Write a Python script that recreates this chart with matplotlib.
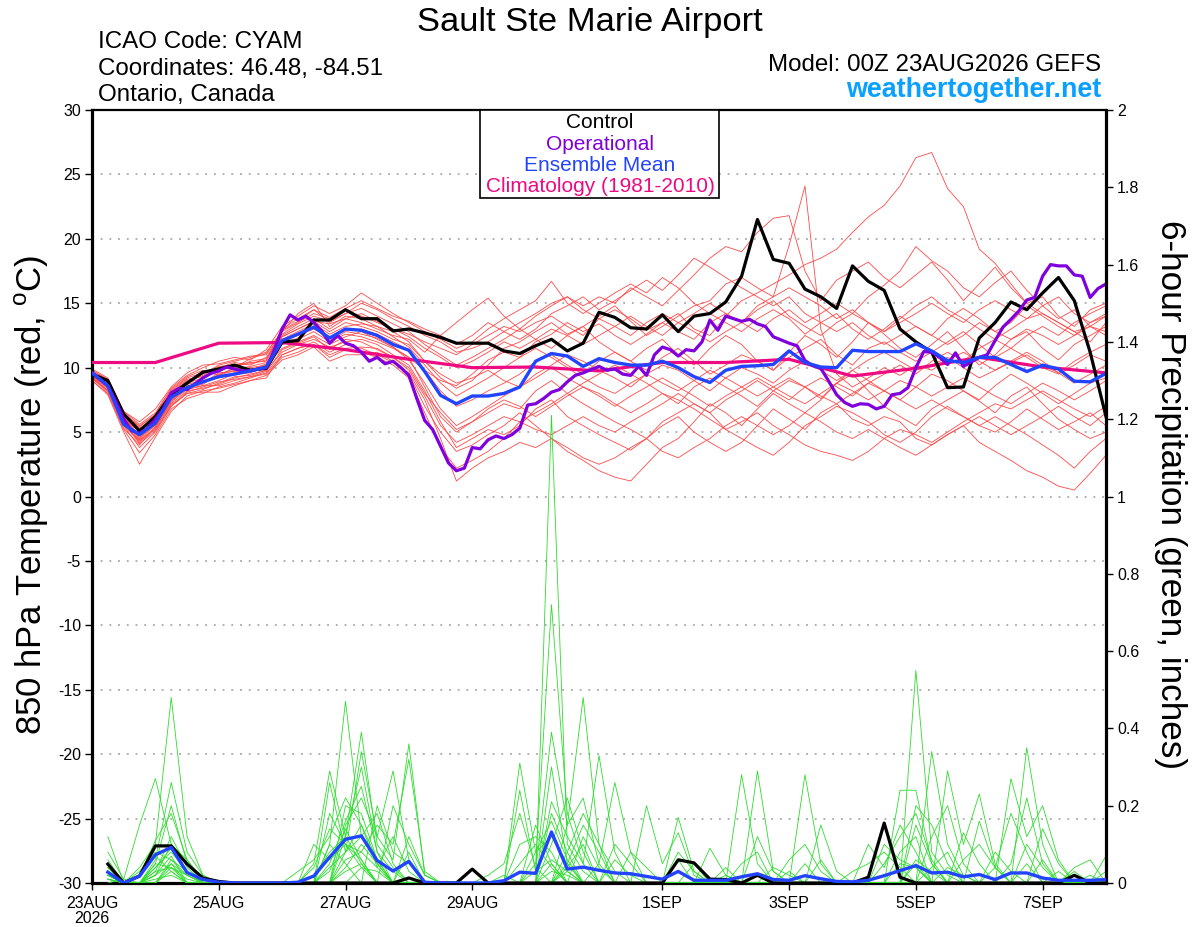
import matplotlib
matplotlib.use('Agg')
import matplotlib.pyplot as plt
import numpy as np
from matplotlib.patches import Rectangle
from matplotlib.ticker import FuncFormatter

plt.rcParams['font.family'] = ['Liberation Sans', 'DejaVu Sans']
plt.rcParams['axes.unicode_minus'] = False

# time axis: GEFS 6-hourly, GFS operational 3-hourly, climatology daily
hours = np.arange(0, 385, 6)
hours_op = np.arange(0, 385, 3)
hours_clim = np.arange(0, 385, 24)
hours_p = hours[1:]

tick_hours = [0, 48, 96, 144, 216, 264, 312, 360]
tick_labels = ['23AUG\n2026', '25AUG', '27AUG', '29AUG', '1SEP', '3SEP', '5SEP', '7SEP']

# 850 hPa temperature (C)
control_t = [9.5, 9.0, 6.4, 5.1, 6.2, 7.9, 8.8, 9.65, 9.9, 10.2, 9.8, 9.95,
             12.0, 12.1, 13.7, 13.7, 14.5, 13.8, 13.8, 12.85, 13.0, 12.7, 12.35,
             11.9, 11.9, 11.9, 11.3, 11.1, 11.7, 12.2, 11.3, 11.9, 14.3, 13.9, 13.1, 13.0, 14.1, 12.8, 14.0, 14.2, 15.1,
             17.1, 21.5, 18.4, 18.1, 16.1, 15.5, 14.6, 17.9, 16.7, 16.0, 13.0, 12.0, 11.2, 8.45, 8.5, 12.3,
             13.5, 15.1, 14.5, 15.8, 17.0, 15.2, 11.2, 6.2]

oper_t = [9.6, 9.1, 8.6, 7.4, 6.0, 5.1, 4.9, 5.3, 6.0, 6.8,
          8.05, 8.4, 8.3, 8.75, 9.2, 9.55, 9.75, 10.05, 9.9, 9.75,
          9.75, 9.9, 10.0, 11.35, 13.0, 14.1, 13.7, 14.0, 13.5, 12.85,
          11.9, 12.5, 11.9, 11.7, 11.2, 10.5, 10.8, 10.3, 10.5, 10.0,
          9.4, 7.6, 5.9, 5.2, 3.9,
          2.6, 2.0, 2.2, 3.8, 3.7, 4.4, 4.7, 4.5, 4.8, 5.3,
          7.1, 7.2, 7.6, 8.1, 8.3, 8.9, 9.4, 9.6, 9.85, 10.1,
          9.8, 9.9, 9.5, 9.4, 10.1, 9.4, 11.0, 11.6, 11.4, 10.9,
          11.4, 11.3, 12.0, 13.7, 12.9, 14.0, 13.8,
          13.6, 13.75, 13.4, 13.2, 12.4, 12.15, 11.9, 11.7,
          10.55, 10.15, 9.95, 8.95, 7.9, 7.3, 7.0, 7.2, 7.15, 6.8,
          7.0, 7.9, 8.0, 8.45, 10.0, 11.25, 11.2, 10.8, 10.25, 11.15,
          10.1, 10.45, 10.8, 11.0, 12.1, 13.15, 13.75, 14.4, 15.25, 15.45,
          17.1, 18.0, 17.9, 17.9, 17.2, 17.1, 15.45, 16.15, 16.5]

mean_t = [9.6, 8.6, 5.6, 4.8, 5.7, 7.7, 8.45, 8.9, 9.3, 9.5, 9.75, 10.05,
          12.1, 12.6, 13.15, 12.3, 13.0, 12.9, 12.5, 11.8, 11.35, 9.7, 7.85,
          7.2, 7.8, 7.8, 8.0, 8.5, 10.5, 11.1, 10.9, 10.1, 10.7, 10.4, 10.2, 10.2, 10.5, 10.0, 9.3, 8.85, 9.8, 10.1, 10.15,
          10.25, 11.3, 10.4, 10.05, 10.0, 11.35, 11.25, 11.25, 11.25, 11.85, 11.3, 10.55, 10.4, 10.8, 10.8, 10.25,
          9.7, 10.2, 9.9, 8.95, 8.9, 9.55]

clim_t = [10.4, 10.4, 11.9, 11.95, 11.4, 10.65, 10.0, 10.05, 9.75, 10.4, 10.4,
          10.65, 9.35, 9.95, 10.8, 10.05, 9.6]

t_mem01 = [9.8, 9.0, 6.4, 5.5, 6.3, 8.0, 9.0, 9.5, 10.2, 10.5, 10.8, 11.2,
           12.8, 13.5, 14.2, 13.8, 14.5, 14.0, 13.5, 13.0, 12.6,
           12.0, 11.5, 11.0, 11.8, 12.5, 13.2, 12.8, 13.5, 14.0, 13.2, 12.5, 13.8,
           14.5, 13.8, 12.9, 13.5, 14.2, 13.0, 12.5, 14.0, 15.2, 15.8, 16.5, 17.2, 18.0, 18.5, 19.2, 20.5,
           21.7, 22.6, 24.1, 26.3, 26.7, 23.9, 22.5, 19.2, 18.1, 16.5, 15.0, 14.2, 13.5, 12.8, 12.0, 13.5]
t_mem02 = [9.4, 8.4, 5.7, 4.6, 5.5, 7.4, 8.3, 8.6, 9.0, 9.5, 9.6, 10.1,
           12.4, 13.0, 13.6, 12.8, 13.5, 13.2, 12.8, 12.2, 11.8,
           10.5, 9.2, 8.4, 9.0, 10.2, 11.5, 12.0, 12.8, 13.5, 12.6, 13.2, 14.0,
           14.8, 13.6, 12.5, 13.2, 14.0, 14.8, 15.2, 16.5, 17.0, 16.2, 15.5, 19.5, 24.1, 13.0, 9.5, 8.5,
           9.2, 10.0, 9.4, 10.2, 9.8, 10.6, 11.2, 10.5, 9.8, 10.4, 11.0, 10.2, 9.6, 10.5, 11.2, 11.8]
t_mem03 = [9.6, 8.8, 6.2, 5.2, 6.0, 7.8, 8.8, 9.2, 9.8, 10.2, 10.3, 10.6,
           13.0, 13.8, 14.5, 13.5, 14.2, 15.0, 14.5, 13.8, 13.2,
           12.5, 12.0, 11.2, 11.5, 12.0, 12.8, 13.5, 14.2, 15.0, 15.5, 14.8, 15.5,
           15.0, 16.2, 15.5, 14.8, 16.0, 17.2, 18.5, 19.4, 19.0, 20.5, 21.6, 21.8, 17.5, 15.2, 16.8, 17.5,
           18.2, 17.0, 16.2, 17.2, 18.2, 16.8, 15.2, 16.5, 17.8, 16.2, 15.0, 15.5, 14.0, 13.2, 14.5, 15.0]
t_mem04 = [9.2, 8.2, 5.5, 4.4, 5.2, 7.0, 8.0, 8.3, 8.8, 9.3, 9.4, 9.8,
           11.8, 12.2, 12.8, 12.0, 12.6, 12.4, 12.0, 11.5, 10.8,
           9.8, 9.0, 8.6, 9.5, 10.6, 11.2, 10.8, 12.0, 12.6, 13.5, 12.8, 13.4,
           12.5, 11.8, 12.6, 13.5, 12.8, 12.2, 13.5, 14.2, 13.5, 12.8, 13.8, 14.5, 13.5, 14.2, 15.0, 14.2,
           15.5, 16.4, 17.5, 19.4, 18.3, 17.5, 16.2, 15.5, 16.6, 17.5, 16.0, 14.8, 13.8, 14.5, 13.2, 14.0]
t_mem05 = [9.0, 8.0, 5.2, 3.4, 4.8, 6.8, 7.6, 8.0, 8.5, 8.8, 9.2, 9.6,
           11.0, 11.5, 12.0, 11.2, 11.8, 11.5, 11.0, 10.4, 9.6,
           7.5, 4.5, 1.2, 2.2, 3.0, 3.5, 4.2, 3.8, 4.5, 3.5, 2.8, 2.0,
           1.5, 1.2, 2.5, 3.8, 4.5, 5.8, 7.2, 6.5, 5.5, 6.8, 8.0, 7.2, 6.5, 7.5, 8.8, 9.5,
           8.2, 7.0, 6.2, 5.5, 6.8, 7.5, 8.2, 7.4, 6.5, 7.8, 8.5, 7.2, 6.0, 5.2, 4.5, 5.0]
t_mem06 = [9.5, 8.5, 5.9, 4.4, 5.6, 7.5, 8.4, 8.9, 9.4, 9.8, 10.0, 10.2,
           11.5, 12.0, 12.5, 11.8, 12.4, 12.8, 12.2, 11.6, 10.8,
           8.5, 6.2, 5.0, 5.8, 6.5, 7.2, 6.8, 8.2, 9.0, 8.0, 7.2, 6.5,
           5.8, 5.2, 4.5, 5.5, 6.2, 5.0, 4.2, 3.5, 4.2, 5.5, 6.8, 6.0, 5.2, 6.5, 7.2, 6.0,
           5.5, 6.2, 5.8, 4.5, 4.0, 4.8, 5.5, 4.2, 3.5, 2.8, 2.0, 1.5, 0.8, 0.5, 1.8, 3.2]
t_mem07 = [9.7, 8.9, 6.1, 5.0, 6.2, 8.2, 9.2, 9.6, 10.0, 10.4, 10.2, 10.8,
           12.5, 13.2, 13.8, 13.0, 13.8, 13.5, 13.0, 12.5, 12.2,
           11.2, 12.5, 13.5, 14.5, 15.4, 14.0, 13.0, 12.2, 11.5, 12.5, 13.2, 12.0,
           11.2, 10.5, 11.5, 12.2, 11.0, 10.2, 11.5, 12.5, 11.8, 10.5, 9.8, 11.2, 12.5, 11.8, 10.8, 12.0,
           13.5, 12.6, 11.5, 10.8, 11.8, 12.8, 11.5, 10.2, 11.0, 12.2, 12.8, 11.5, 10.6, 11.8, 12.5, 13.2]
t_mem08 = [9.3, 8.6, 6.6, 5.6, 6.5, 8.4, 9.4, 10.0, 10.5, 10.8, 10.6, 11.4,
           13.2, 14.0, 14.8, 14.2, 14.8, 15.8, 15.0, 14.2, 13.5,
           12.8, 12.2, 11.5, 12.0, 13.0, 13.8, 14.5, 15.2, 16.7, 15.0, 14.2, 15.0,
           15.8, 16.5, 15.8, 17.0, 16.2, 15.0, 14.2, 13.5, 12.8, 13.8, 14.5, 13.8, 12.6, 13.5, 14.2, 13.0,
           12.2, 13.0, 14.0, 13.2, 12.5, 13.8, 14.6, 13.8, 12.8, 13.5, 14.8, 14.0, 13.2, 12.5, 13.5, 14.2]
t_mem09 = [9.1, 8.3, 5.8, 4.2, 5.3, 7.2, 8.2, 8.4, 8.7, 9.2, 9.5, 9.8,
           11.2, 11.8, 12.2, 11.6, 12.0, 12.2, 11.8, 11.0, 10.2,
           8.2, 5.8, 3.8, 4.5, 5.2, 4.8, 5.5, 6.8, 7.5, 6.2, 5.5, 4.8,
           4.2, 3.6, 4.5, 5.8, 6.5, 7.2, 6.5, 5.2, 4.5, 3.8, 3.2, 4.2, 5.5, 6.2, 7.0, 6.5,
           5.8, 4.8, 4.2, 5.0, 6.2, 7.0, 6.2, 5.5, 5.0, 5.8, 6.8, 6.0, 5.2, 5.8, 6.5, 5.5]
t_mem10 = [9.6, 8.7, 6.0, 4.8, 5.9, 7.7, 8.7, 9.0, 9.2, 9.6, 9.9, 10.1,
           12.0, 12.5, 13.0, 12.4, 12.9, 13.0, 12.6, 12.0, 11.4,
           9.8, 8.2, 7.0, 7.5, 8.2, 8.8, 9.5, 10.5, 11.0, 10.2, 9.5, 10.5,
           11.2, 10.5, 9.8, 10.8, 11.5, 10.5, 9.5, 10.2, 11.0, 10.5, 9.8, 10.8, 11.5, 12.2, 11.0, 10.2,
           11.5, 12.0, 11.2, 10.5, 11.2, 12.0, 12.8, 11.8, 10.8, 11.5, 10.8, 10.0, 9.5, 10.2, 11.0, 10.5]
t_mem11 = [9.4, 8.5, 5.5, 3.8, 5.0, 7.0, 8.1, 8.5, 8.9, 9.1, 9.3, 9.5,
           10.8, 11.2, 11.8, 10.8, 11.4, 11.2, 10.8, 10.2, 9.2,
           6.5, 3.8, 2.2, 2.8, 3.5, 4.5, 5.8, 6.5, 7.2, 8.0, 8.8, 9.5,
           10.2, 9.5, 8.8, 8.0, 7.2, 8.5, 9.2, 8.5, 7.8, 7.0, 8.2, 9.0, 8.5, 7.6, 8.8, 9.8,
           9.0, 8.2, 7.5, 8.5, 9.5, 9.0, 8.2, 7.5, 8.6, 9.5, 8.8, 8.0, 7.2, 8.0, 8.8, 9.2]
t_mem12 = [9.9, 9.2, 6.6, 5.8, 6.8, 8.5, 9.6, 10.2, 10.3, 10.6, 10.9, 11.0,
           12.6, 13.4, 14.0, 13.6, 14.2, 14.6, 14.0, 13.4, 12.8,
           11.8, 11.0, 10.2, 10.8, 11.5, 12.2, 13.0, 14.0, 14.8, 15.5, 14.5, 13.8,
           13.2, 12.5, 13.5, 14.2, 13.5, 12.8, 12.0, 12.8, 13.5, 14.5, 15.2, 14.0, 13.2, 12.5, 13.5, 14.2,
           13.5, 12.8, 13.8, 14.8, 15.5, 14.5, 13.8, 13.0, 12.2, 13.0, 13.8, 14.2, 13.5, 12.8, 13.2, 12.5]
t_mem13 = [9.2, 8.1, 5.3, 4.0, 5.4, 7.3, 8.5, 8.7, 9.5, 9.9, 10.1, 10.4,
           11.8, 12.3, 13.2, 12.0, 12.8, 12.6, 12.3, 11.6, 10.6,
           8.8, 6.8, 5.5, 6.2, 7.0, 7.8, 8.5, 9.2, 10.0, 9.2, 8.5, 8.0,
           7.2, 6.5, 7.2, 8.0, 7.5, 6.8, 6.0, 5.2, 5.8, 6.5, 5.5, 4.8, 4.0, 3.5, 3.2, 2.8,
           3.5, 4.5, 5.2, 4.8, 4.2, 5.0, 5.8, 6.5, 7.2, 6.8, 7.5, 8.2, 7.5, 6.8, 6.2, 7.0]
t_mem14 = [9.8, 9.1, 6.2, 4.7, 5.7, 7.9, 8.9, 9.4, 10.1, 10.2, 10.4, 10.5,
           12.8, 14.2, 15.0, 13.2, 14.0, 13.8, 13.2, 12.8, 12.0,
           10.5, 9.5, 8.8, 9.2, 9.8, 9.0, 8.5, 9.5, 10.2, 11.0, 10.5, 9.8,
           9.2, 8.5, 9.5, 10.2, 9.8, 9.0, 8.2, 9.2, 10.0, 9.5, 8.8, 9.8, 10.5, 9.8, 9.0, 9.8,
           10.6, 11.2, 10.5, 9.8, 10.2, 10.8, 10.0, 9.2, 9.8, 10.5, 11.2, 10.5, 9.6, 8.8, 9.5, 10.2]
t_mem15 = [9.3, 8.4, 5.6, 4.3, 5.4, 7.5, 8.4, 8.6, 8.6, 9.0, 9.3, 9.7,
           11.4, 11.9, 12.4, 11.4, 12.2, 12.0, 11.4, 10.8, 9.8,
           7.8, 5.5, 4.2, 4.8, 5.5, 6.2, 5.8, 5.2, 4.8, 5.5, 6.2, 5.5,
           5.0, 5.8, 6.5, 7.2, 8.0, 7.2, 6.5, 7.5, 8.2, 9.0, 8.2, 7.5, 8.5, 9.2, 8.5, 7.8,
           8.8, 9.5, 10.2, 9.5, 10.5, 11.2, 10.5, 11.5, 12.2, 11.5, 12.5, 13.2, 12.5, 13.5, 14.2, 14.8]
t_mem16 = [9.5, 8.8, 6.1, 4.5, 5.9, 7.7, 8.6, 8.8, 9.6, 9.7, 9.8, 10.3,
           12.2, 12.8, 13.4, 12.6, 13.2, 13.4, 13.2, 12.4, 11.6,
           10.2, 8.8, 7.8, 8.5, 9.2, 10.0, 10.8, 11.5, 10.8, 10.0, 9.2, 8.5,
           8.0, 8.8, 9.5, 8.8, 8.2, 9.0, 9.8, 9.2, 8.5, 7.8, 8.5, 9.2, 8.5, 7.8, 7.2, 8.0,
           8.8, 8.2, 7.5, 6.8, 7.5, 6.8, 6.2, 5.5, 6.2, 5.5, 4.8, 4.0, 3.2, 2.2, 3.5, 4.5]
t_mem17 = [9.7, 8.7, 6.4, 5.3, 6.1, 8.1, 9.1, 9.3, 9.9, 10.0, 10.5, 10.7,
           12.4, 13.0, 13.6, 13.4, 13.8, 14.2, 13.6, 13.0, 12.4,
           11.5, 10.8, 10.0, 10.5, 11.2, 12.0, 11.5, 12.2, 13.0, 12.5, 11.8, 12.5,
           13.2, 14.0, 13.2, 12.5, 13.5, 14.2, 15.0, 14.2, 13.5, 14.8, 15.5, 16.2, 15.5, 14.8, 13.8, 14.5,
           13.5, 12.8, 13.5, 14.2, 15.0, 14.2, 13.5, 14.5, 15.2, 14.5, 13.8, 14.8, 15.5, 14.2, 13.5, 14.0]
t_mem18 = [9.0, 7.9, 5.0, 2.5, 4.6, 6.6, 7.8, 8.2, 8.4, 8.7, 9.0, 9.4,
           10.6, 11.0, 11.6, 10.5, 11.0, 11.0, 11.2, 10.5, 9.5,
           7.0, 5.0, 3.5, 4.0, 4.8, 5.5, 6.5, 5.5, 4.5, 3.8, 3.0, 2.5,
           3.0, 3.8, 4.5, 3.5, 3.0, 3.8, 4.5, 5.5, 6.2, 5.5, 4.8, 5.5, 6.5, 5.8, 5.0, 4.5,
           5.2, 4.5, 3.8, 3.2, 4.0, 4.8, 5.5, 6.2, 5.5, 4.8, 5.5, 6.2, 7.0, 6.2, 5.5, 6.5]
t_mem19 = [9.6, 8.9, 6.5, 5.4, 6.4, 8.3, 9.3, 9.8, 9.4, 10.0, 10.7, 11.1,
           12.9, 13.6, 14.5, 13.9, 14.6, 15.2, 14.6, 14.0, 13.6,
           13.0, 12.5, 11.8, 12.5, 13.5, 12.8, 12.2, 13.0, 14.2, 14.8, 15.5, 14.5,
           15.2, 16.0, 16.8, 16.0, 17.2, 18.5, 17.8, 17.0, 16.2, 15.5, 14.8, 15.5, 14.2, 13.5, 12.8, 13.5,
           12.5, 11.8, 12.5, 13.2, 12.5, 11.8, 12.5, 13.5, 12.8, 12.2, 13.0, 12.5, 11.8, 12.5, 13.2, 12.8]
t_mem20 = [9.3, 8.2, 5.7, 4.1, 5.1, 7.1, 8.0, 8.1, 8.1, 8.6, 9.0, 9.2,
           11.0, 11.5, 11.8, 11.0, 11.5, 11.6, 11.5, 10.8, 10.0,
           8.0, 6.5, 5.2, 5.8, 6.8, 7.5, 7.0, 6.2, 7.0, 7.8, 8.5, 7.8,
           7.0, 7.8, 8.5, 9.2, 8.5, 7.8, 7.0, 7.8, 8.5, 9.2, 8.5, 7.8, 7.2, 8.0, 8.8, 8.2,
           7.5, 8.2, 9.0, 8.5, 7.8, 8.5, 9.2, 8.5, 7.8, 7.2, 8.0, 8.8, 8.2, 7.5, 8.2, 9.0]

# 6-hour precipitation (inches), valid at hours 6..384
control_p = [0.049, 0.0, 0.018, 0.096, 0.096, 0.049, 0.013, 0.004,
             0, 0, 0, 0, 0, 0, 0, 0, 0, 0, 0, 0.013, 0, 0, 0, 0.036,
             0, 0, 0, 0, 0, 0, 0, 0, 0, 0, 0, 0, 0.06, 0.052, 0.01, 0.009, 0, 0.02,
             0, 0, 0, 0, 0, 0, 0.015, 0.155, 0.015, 0, 0, 0, 0, 0, 0, 0, 0, 0, 0, 0.02, 0, 0]
mean_p = [0.028, 0.0, 0.018, 0.073, 0.092, 0.027, 0.009, 0.002,
          0, 0, 0, 0,
          0.002, 0.018, 0.067, 0.113, 0.122, 0.058, 0.031, 0.056, 0.002,
          0, 0, 0, 0,
          0.006, 0.028, 0.025, 0.132, 0.036, 0.041, 0.033,
          0.026, 0.024, 0.017, 0.010, 0.030, 0.007, 0.007, 0.007, 0.016, 0.024, 0.009, 0.007,
          0.019, 0.011, 0.004, 0.003, 0.007, 0.019, 0.032, 0.045, 0.026, 0.028, 0.016, 0.022,
          0.009, 0.026, 0.026, 0.013, 0.007, 0.007, 0.007, 0.009]

# members: {6-hour step: inches}, zero elsewhere
p_mem01 = {1: 0.12, 3: 0.04, 4: 0.10, 5: 0.48, 6: 0.12, 7: 0.02, 15: 0.10, 16: 0.47, 17: 0.12,
           18: 0.05, 29: 1.21, 30: 0.10, 31: 0.03, 52: 0.55, 53: 0.08, 54: 0.02}
p_mem02 = {1: 0.08, 2: 0.01, 3: 0.15, 4: 0.27, 5: 0.10, 6: 0.03, 14: 0.05, 15: 0.29, 16: 0.12,
           17: 0.39, 18: 0.10, 19: 0.04, 28: 0.05, 29: 0.72, 30: 0.18, 31: 0.05, 45: 0.28, 46: 0.05,
           53: 0.34, 54: 0.10, 55: 0.02}
p_mem03 = {1: 0.05, 4: 0.06, 5: 0.26, 6: 0.08, 7: 0.02, 15: 0.26, 16: 0.08, 17: 0.34, 18: 0.12,
           19: 0.29, 20: 0.06, 27: 0.31, 28: 0.08, 29: 0.12, 30: 0.05, 41: 0.28, 42: 0.05, 51: 0.24,
           52: 0.24, 53: 0.05, 59: 0.35, 60: 0.10}
p_mem04 = {1: 0.03, 3: 0.02, 4: 0.11, 5: 0.18, 6: 0.06, 16: 0.15, 17: 0.22, 18: 0.12, 19: 0.06,
           20: 0.36, 21: 0.02, 27: 0.24, 28: 0.03, 29: 0.39, 30: 0.15, 31: 0.48, 32: 0.10, 33: 0.03,
           54: 0.29, 55: 0.10, 56: 0.23, 57: 0.05}
p_mem05 = {1: 0.02, 4: 0.04, 5: 0.08, 6: 0.03, 15: 0.18, 16: 0.10, 17: 0.08, 18: 0.15, 19: 0.10,
           20: 0.32, 21: 0.03, 29: 0.21, 30: 0.12, 31: 0.05, 32: 0.33, 33: 0.08, 42: 0.29, 43: 0.03,
           58: 0.27, 59: 0.12, 60: 0.20, 61: 0.06}
p_mem06 = {1: 0.01, 3: 0.03, 4: 0.08, 5: 0.06, 6: 0.03, 14: 0.02, 15: 0.08, 16: 0.12, 17: 0.05,
           19: 0.20, 20: 0.10, 21: 0.02, 30: 0.15, 31: 0.22, 32: 0.05, 33: 0.26, 34: 0.08, 37: 0.17,
           38: 0.03, 52: 0.15, 53: 0.05, 56: 0.16, 57: 0.04}
p_mem07 = {1: 0.04, 4: 0.03, 5: 0.12, 6: 0.04, 16: 0.20, 17: 0.18, 18: 0.06, 28: 0.08, 29: 0.16,
           30: 0.06, 35: 0.20, 36: 0.05, 37: 0.13, 38: 0.02, 46: 0.15, 47: 0.03, 55: 0.13, 56: 0.05,
           64: 0.07}
p_mem08 = {2: 0.01, 4: 0.05, 5: 0.04, 6: 0.02, 13: 0.03, 14: 0.06, 15: 0.12, 16: 0.22, 17: 0.15,
           18: 0.04, 25: 0.02, 26: 0.05, 27: 0.18, 28: 0.04, 30: 0.08, 31: 0.18, 32: 0.10, 39: 0.09,
           40: 0.02, 49: 0.10, 50: 0.04, 51: 0.15, 52: 0.08, 60: 0.06}
p_mem09 = {1: 0.03, 4: 0.02, 5: 0.10, 6: 0.06, 7: 0.01, 15: 0.05, 16: 0.16, 17: 0.25, 18: 0.08,
           20: 0.12, 21: 0.02, 29: 0.10, 30: 0.22, 31: 0.08, 42: 0.12, 43: 0.03, 50: 0.05, 51: 0.12,
           52: 0.18, 53: 0.06, 57: 0.04, 58: 0.18, 59: 0.08}
p_mem10 = {1: 0.02, 5: 0.05, 6: 0.02, 16: 0.08, 17: 0.12, 18: 0.18, 19: 0.05, 27: 0.10, 28: 0.12,
           29: 0.08, 33: 0.10, 34: 0.05, 44: 0.06, 45: 0.10, 46: 0.03, 53: 0.12, 54: 0.20, 55: 0.05,
           60: 0.14, 61: 0.05}
p_mem11 = {1: 0.05, 3: 0.02, 4: 0.07, 5: 0.03, 14: 0.04, 15: 0.14, 16: 0.10, 17: 0.06, 20: 0.08,
           28: 0.15, 29: 0.05, 31: 0.12, 32: 0.04, 37: 0.08, 38: 0.03, 51: 0.08, 52: 0.12, 58: 0.05,
           59: 0.22, 60: 0.05}
p_mem12 = {1: 0.01, 4: 0.04, 5: 0.09, 6: 0.03, 16: 0.12, 17: 0.30, 18: 0.08, 19: 0.03, 29: 0.30,
           30: 0.05, 34: 0.08, 35: 0.04, 41: 0.05, 42: 0.08, 52: 0.20, 53: 0.15, 54: 0.05, 62: 0.04,
           63: 0.06}
p_mem13 = {1: 0.06, 4: 0.02, 5: 0.07, 15: 0.10, 16: 0.05, 18: 0.20, 19: 0.08, 20: 0.05, 30: 0.05,
           31: 0.15, 32: 0.08, 40: 0.04, 45: 0.05, 55: 0.06, 56: 0.10, 57: 0.04}
p_mem14 = {1: 0.02, 4: 0.05, 5: 0.20, 6: 0.05, 15: 0.04, 16: 0.08, 17: 0.15, 18: 0.06, 29: 0.18,
           30: 0.08, 32: 0.05, 48: 0.03, 49: 0.05, 50: 0.08, 51: 0.04, 59: 0.10, 60: 0.04}
p_mem15 = {1: 0.04, 4: 0.03, 5: 0.04, 14: 0.10, 15: 0.06, 16: 0.10, 17: 0.04, 27: 0.05, 28: 0.10,
           29: 0.04, 37: 0.06, 50: 0.10, 51: 0.06, 52: 0.04, 61: 0.03}
p_mem16 = {1: 0.01, 5: 0.06, 6: 0.02, 16: 0.06, 17: 0.08, 18: 0.04, 19: 0.12, 20: 0.03, 30: 0.04,
           31: 0.10, 43: 0.04, 44: 0.02, 53: 0.04, 54: 0.08, 64: 0.03}
p_mem17 = {1: 0.03, 4: 0.02, 5: 0.05, 15: 0.03, 16: 0.14, 17: 0.06, 28: 0.03, 29: 0.06, 30: 0.03,
           38: 0.05, 52: 0.06, 53: 0.03, 57: 0.08, 58: 0.03}
p_mem18 = {1: 0.02, 5: 0.03, 16: 0.04, 17: 0.10, 18: 0.05, 29: 0.05, 33: 0.06, 34: 0.02, 46: 0.06,
           51: 0.05, 52: 0.04, 59: 0.05}
p_mem19 = {1: 0.01, 4: 0.01, 5: 0.02, 16: 0.03, 17: 0.05, 26: 0.02, 29: 0.03, 30: 0.02, 44: 0.03,
           54: 0.04, 55: 0.02, 63: 0.02}
p_mem20 = {1: 0.02, 5: 0.04, 6: 0.01, 17: 0.04, 18: 0.03, 30: 0.03, 40: 0.02, 52: 0.05, 62: 0.03}

temp_members = [t_mem01, t_mem02, t_mem03, t_mem04, t_mem05, t_mem06, t_mem07, t_mem08, t_mem09, t_mem10,
                t_mem11, t_mem12, t_mem13, t_mem14, t_mem15, t_mem16, t_mem17, t_mem18, t_mem19, t_mem20]
precip_members = [p_mem01, p_mem02, p_mem03, p_mem04, p_mem05, p_mem06, p_mem07, p_mem08, p_mem09, p_mem10,
                  p_mem11, p_mem12, p_mem13, p_mem14, p_mem15, p_mem16, p_mem17, p_mem18, p_mem19, p_mem20]

RED = '#ff4848'
GREEN = '#2edc2e'
PURPLE = '#8000dd'
BLUE = '#2244ff'
PINK = '#ee0a82'

W, H = 1200, 927
fig = plt.figure(figsize=(W / 100, H / 100), dpi=100)
ax = fig.add_axes([92 / W, 1 - 883 / H, 1014 / W, 773 / H])
ax2 = ax.twinx()


def ftext(px, py, s, **kw):
    fig.text(px / W, 1 - py / H, s, **kw)


# temperature
for m in temp_members:
    ax.plot(hours, m, color=RED, lw=0.6, zorder=2)
ax.plot(hours_clim, clim_t, color=PINK, lw=2.3, zorder=4)
ax.plot(hours, control_t, color='black', lw=2.3, zorder=5)
ax.plot(hours_op, oper_t, color=PURPLE, lw=2.3, zorder=5)
ax.plot(hours, mean_t, color=BLUE, lw=2.4, zorder=6)

# precipitation
for d in precip_members:
    vals = np.zeros(len(hours_p))
    for k, v in d.items():
        vals[k - 1] = v
    ax2.plot(hours_p, vals, color=GREEN, lw=0.6, zorder=2)
ax2.plot(hours_p, control_p, color='black', lw=2.3, zorder=5)
ax2.plot(hours_p, mean_p, color=BLUE, lw=2.4, zorder=6)

ax.set_xlim(0, 384)
ax.set_ylim(-30, 30)
ax2.set_ylim(0, 2)

ax.set_yticks(np.arange(-30, 31, 5))
ax2.set_yticks(np.arange(0, 2.01, 0.2))
ax2.yaxis.set_major_formatter(FuncFormatter(lambda v, p: '%g' % round(v, 1)))
ax.set_xticks(tick_hours)
ax.set_xticklabels(tick_labels, linespacing=1.05)

for a in (ax, ax2):
    a.tick_params(direction='out', length=5, width=1, labelsize=11.5, pad=3)
ax.tick_params(axis='x', pad=4)

ax.yaxis.grid(True, linestyle=(0, (1.2, 4.5)), color='#9a9a9a', lw=1.1)
ax.set_axisbelow(True)

for s in ('left', 'bottom'):
    ax.spines[s].set_linewidth(2.3)
ax.spines['top'].set_linewidth(1.6)
ax.spines['right'].set_visible(False)
for s in ('left', 'bottom', 'top'):
    ax2.spines[s].set_visible(False)
ax2.spines['right'].set_linewidth(2.3)

# legend box
ax2.add_patch(Rectangle(((480 - 92) / 1014, (883 - 198) / 773), 239 / 1014, 88 / 773,
                        transform=ax.transAxes, facecolor='white', edgecolor='black',
                        lw=1.2, zorder=10, clip_on=False))
leg_items = [('Control', 'black'), ('Operational', PURPLE),
             ('Ensemble Mean', BLUE), ('Climatology (1981-2010)', PINK)]
for k, (lab, col) in enumerate(leg_items):
    ftext(600, 128 + 21.5 * k, lab, color=col, fontsize=15, ha='center', va='baseline', zorder=11)

# header texts
ftext(590, 31, 'Sault Ste Marie Airport', fontsize=24.8, ha='center', va='baseline')
ftext(98, 48, 'ICAO Code: CYAM', fontsize=17.4, ha='left', va='baseline')
ftext(98, 75, 'Coordinates: 46.48, -84.51', fontsize=17.4, ha='left', va='baseline')
ftext(98, 101, 'Ontario, Canada', fontsize=17.4, ha='left', va='baseline')
ftext(1101, 71, 'Model: 00Z 23AUG2026 GEFS', fontsize=17.4, ha='right', va='baseline')
ftext(1101, 97, 'weathertogether.net', fontsize=19.4, fontweight='bold',
      color='#0aa0ff', ha='right', va='baseline')

# axis titles
ftext(32, 495, r'850 hPa Temperature (red, $^{\mathregular{o}}$C)', fontsize=25,
      rotation=90, ha='center', va='center')
ftext(1170, 495, '6-hour Precipitation (green, inches)', fontsize=25.3,
      rotation=270, ha='center', va='center')

fig.savefig('out.png', dpi=100, facecolor='white')
